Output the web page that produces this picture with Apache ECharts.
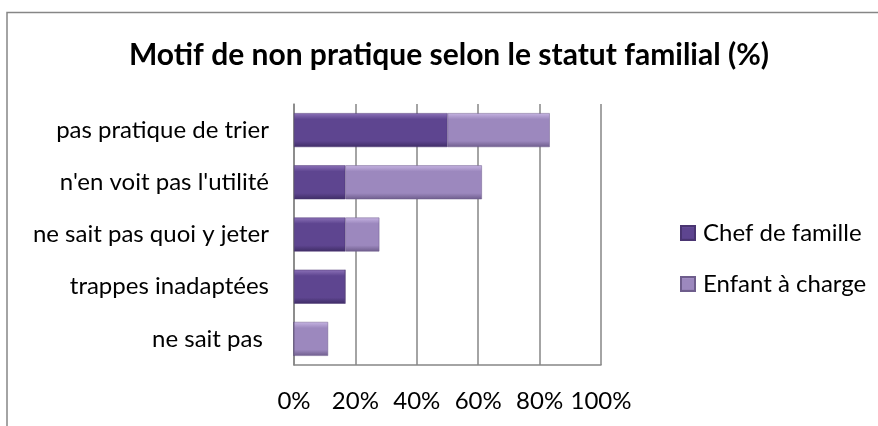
<!DOCTYPE html>
<html><head><meta charset="utf-8">
<script src="https://cdn.jsdelivr.net/npm/echarts@6/dist/echarts.min.js"></script>
<style>html,body{margin:0;padding:0;background:#fff}#c{width:878px;height:426px}</style>
</head><body><div id="c"></div>
<script>
const categories = ["pas pratique de trier", "n'en voit pas l'utilité", "ne sait pas quoi y jeter", "trappes inadaptées", "ne sait pas "];
const chefValues = [50, 16.7, 16.7, 16.7, 0];
const enfantValues = [33.3, 44.5, 11.1, 0, 11.1];
const tickLabels = ["0%", "20%", "40%", "60%", "80%", "100%"];
const seriesNames = ["Chef de famille", "Enfant à charge"];

const font = "Lato, sans-serif";
function grad(top, mid, bot) {
  return new echarts.graphic.LinearGradient(0, 0, 0, 1, [
    {offset: 0, color: top}, {offset: 0.18, color: mid}, {offset: 0.82, color: mid}, {offset: 1, color: bot}
  ]);
}
const chart = echarts.init(document.getElementById('c'), null, {renderer: 'canvas'});
chart.setOption({
  animation: false,
  backgroundColor: '#fff',
  graphic: [{type: 'polyline', shape: {points: [[7, 426], [7, 12.5], [878, 12.5]]}, style: {stroke: '#868686', lineWidth: 1.5, fill: null}}],
  title: {text: 'Motif de non pratique selon le statut familial (%)', left: 444, textAlign: 'center', top: 35,
    textStyle: {fontFamily: font, fontWeight: 'bold', fontSize: 30, color: '#000'}},
  legend: {orient: 'vertical', left: 675, top: 216, itemGap: 27, itemWidth: 14, itemHeight: 14,
    icon: 'rect', textStyle: {fontFamily: font, fontSize: 24, color: '#000', padding: [0, 0, 0, 3]}},
  grid: {left: 294, right: 277, top: 104, bottom: 61},
  xAxis: {type: 'value', min: 0, max: 100, interval: 20,
    axisLine: {show: true, lineStyle: {color: '#868686', width: 1.5}},
    axisTick: {show: false},
    splitLine: {show: true, lineStyle: {color: '#868686', width: 1.5}},
    axisLabel: {margin: 24, fontFamily: font, fontSize: 24, color: '#000',
      formatter: v => tickLabels[Math.round(v / 20)]}},
  yAxis: {type: 'category', inverse: true, data: categories,
    axisLine: {show: true, lineStyle: {color: '#868686', width: 1.5}},
    axisTick: {show: false},
    axisLabel: {margin: 25, fontFamily: font, fontSize: 24, color: '#000'}},
  series: [
    {name: seriesNames[0], type: 'bar', stack: 's', data: chefValues, barCategoryGap: '35%',
      itemStyle: {color: grad('#8c72b8', '#5e4590', '#3f2d66'), borderColor: '#4a3572', borderWidth: 0.5}},
    {name: seriesNames[1], type: 'bar', stack: 's', data: enfantValues, barCategoryGap: '35%',
      itemStyle: {color: grad('#c6b4e2', '#9c88be', '#6e5d8c'), borderColor: '#6e5d8c', borderWidth: 0.5}}
  ]
});
</script></body></html>
